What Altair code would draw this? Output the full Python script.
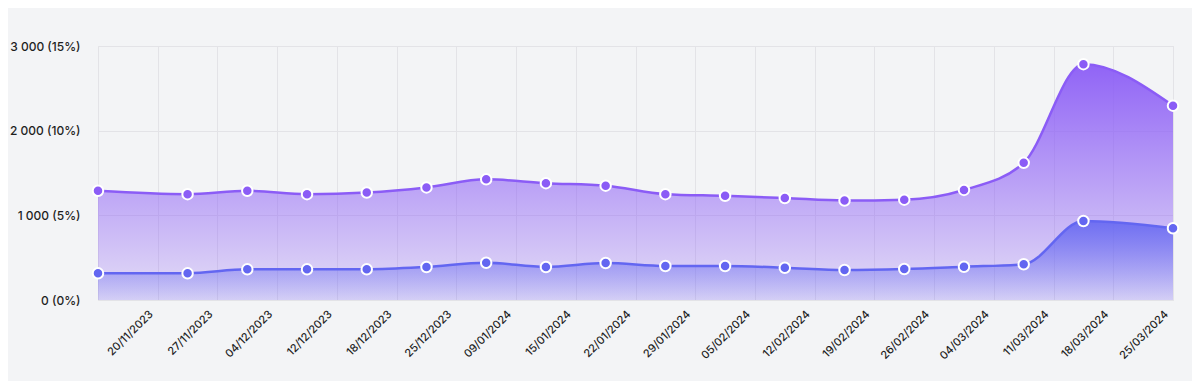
import altair as alt
import pandas as pd

dates = ["20/11/2023", "27/11/2023", "04/12/2023", "12/12/2023", "18/12/2023",
         "25/12/2023", "09/01/2024", "15/01/2024", "22/01/2024", "29/01/2024",
         "05/02/2024", "12/02/2024", "19/02/2024", "26/02/2024", "04/03/2024",
         "11/03/2024", "18/03/2024", "25/03/2024"]
purple_values = [1290, 1250, 1290, 1250, 1270, 1330, 1425, 1380, 1350, 1250,
                 1230, 1205, 1175, 1185, 1300, 1620, 2785, 2295]
blue_values = [315, 315, 362, 362, 362, 390, 440, 390, 437, 402,
               402, 381, 354, 366, 393, 422, 933, 847]
y_ticks = [0, 1000, 2000, 3000]
y_tick_labels = ["0 (0%)", "1 000 (5%)", "2 000 (10%)", "3 000 (15%)"]

n = len(dates)
# first and last point sit on the plot edges, others at band centres
pos = [-0.5 if i == 0 else (n - 0.5 if i == n - 1 else float(i)) for i in range(n)]
df = pd.DataFrame({"date": dates, "pos": pos, "purple": purple_values, "blue": blue_values})

date_js = "[" + ",".join(f"'{d}'" for d in dates) + "]"
ylab_js = "[" + ",".join(f"'{t}'" for t in y_tick_labels) + "]"

PURPLE = "#8b5cf6"
BLUE = "#6366f1"
GRID = "#e3e3e7"

x_enc = alt.X(
    "pos:Q",
    scale=alt.Scale(domain=[-0.5, n - 0.5], nice=False, zero=False),
    axis=alt.Axis(
        values=[i + 0.5 for i in range(n)],
        labelExpr=f"{date_js}[floor(datum.value)]",
        labelAngle=-45, labelAlign="right", labelBaseline="top",
        labelOffset=-11, labelPadding=8, ticks=False, domain=False,
        grid=True, gridColor=GRID, title=None,
        labelFontSize=11, labelColor="#1f1f1f", labelFont="Inter",
        labelFontWeight=500, labelOverlap=False,
    ),
)


def y_enc(field):
    return alt.Y(
        f"{field}:Q",
        scale=alt.Scale(domain=[0, 3000], nice=False),
        axis=alt.Axis(
            values=y_ticks,
            labelExpr=f"{ylab_js}[round(datum.value/1000)]",
            ticks=False, domain=False, grid=True, gridColor=GRID,
            title=None, labelPadding=18, labelFontSize=12,
            labelColor="#1f1f1f", labelFont="Inter", labelFontWeight=500,
        ),
    )


purple_grad = alt.Gradient(
    gradient="linear", x1=0, x2=0, y1=0, y2=1,
    stops=[alt.GradientStop(color="rgba(139,92,246,0.95)", offset=0),
           alt.GradientStop(color="rgba(139,92,246,0.15)", offset=1)],
)
blue_grad = alt.Gradient(
    gradient="linear", x1=0, x2=0, y1=0, y2=1,
    stops=[alt.GradientStop(color="rgba(99,102,241,0.88)", offset=0),
           alt.GradientStop(color="rgba(99,102,241,0.12)", offset=1)],
)

base = alt.Chart(df)

area_p = base.mark_area(interpolate="monotone", color=purple_grad).encode(x=x_enc, y=y_enc("purple"))
area_b = base.mark_area(interpolate="monotone", color=blue_grad).encode(x=x_enc, y=y_enc("blue"))
line_p = base.mark_line(interpolate="monotone", color=PURPLE, strokeWidth=2.5).encode(x=x_enc, y=y_enc("purple"))
line_b = base.mark_line(interpolate="monotone", color=BLUE, strokeWidth=2.5).encode(x=x_enc, y=y_enc("blue"))
pts_p = base.mark_circle(size=110, color=PURPLE, opacity=1, stroke="white", strokeWidth=2).encode(
    x=x_enc, y=y_enc("purple"), tooltip=["date:N", "purple:Q"])
pts_b = base.mark_circle(size=110, color=BLUE, opacity=1, stroke="white", strokeWidth=2).encode(
    x=x_enc, y=y_enc("blue"), tooltip=["date:N", "blue:Q"])

chart = alt.layer(area_p, area_b, line_p, line_b, pts_p, pts_b).properties(
    width=1075, height=254,
    autosize=alt.AutoSizeParams(type="none"),
    padding={"left": 90, "top": 38, "right": 19, "bottom": 81},
    background="#f3f4f6",
).configure_view(stroke=GRID, strokeWidth=1)

chart.save("out.html", embed_options={"renderer": "svg", "actions": False})
